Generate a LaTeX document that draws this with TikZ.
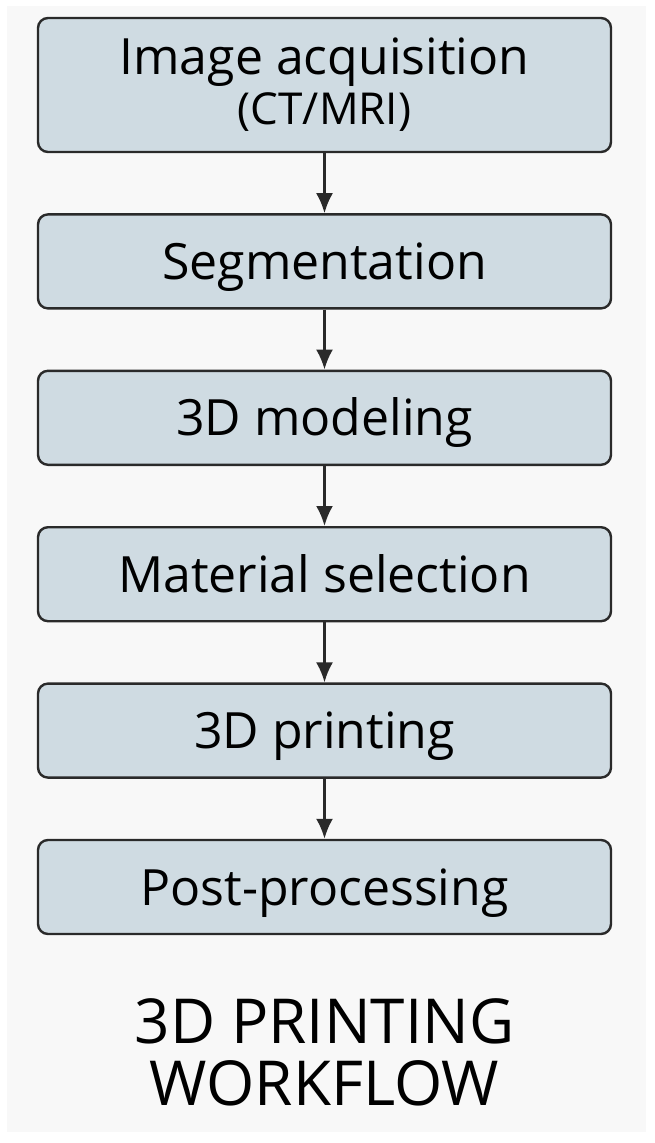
\documentclass[tikz,border=0pt]{standalone}
\usepackage{fontspec}
\setmainfont{Open Sans}
\usetikzlibrary{arrows.meta, positioning}
\definecolor{boxfill}{RGB}{207,219,226}
\definecolor{boxline}{RGB}{42,42,42}
\definecolor{pagebg}{RGB}{248,248,248}

\begin{document}
\begin{tikzpicture}[x=1pt, y=1pt, >={Latex[length=20pt,width=17pt]},
		stepbox/.style={draw=boxline, line width=2.4pt, rounded corners=10pt, fill=boxfill,
			minimum width=573pt, minimum height=94pt, inner sep=0pt,
			text height=36pt, text depth=0pt, font=\fontsize{50}{54}\selectfont},
		node distance=60pt]
		\useasboundingbox (0,0) rectangle (654,-1143);
		\fill[pagebg] (7,-6) rectangle (646,-1132);

		\node[stepbox, minimum height=134pt, text height=, text depth=, align=center] (acq) at (324.5,-85)
			{Image acquisition\\[-4pt]{\fontsize{44}{46}\selectfont (CT/MRI)}};
		\node[stepbox] [below=of acq]   (seg)   {Segmentation};
		\node[stepbox] [below=of seg]   (model) {3D modeling};
		\node[stepbox] [below=of model] (mat)   {Material selection};
		\node[stepbox] [below=of mat]   (print) {3D printing};
		\node[stepbox] [below=of print] (post)  {Post-processing};

		\foreach \a/\b in {acq/seg, seg/model, model/mat, mat/print, print/post}
			\draw[->, line width=2.6pt, boxline] (\a) -- (\b);

		\node[font=\fontsize{62}{66}\selectfont, anchor=base] (title) at (324.5,-1043) {3D PRINTING};
		\node[font=\fontsize{62}{66}\selectfont, anchor=base] (title2) at (324.5,-1105) {WORKFLOW};
	\end{tikzpicture}
\end{document}
